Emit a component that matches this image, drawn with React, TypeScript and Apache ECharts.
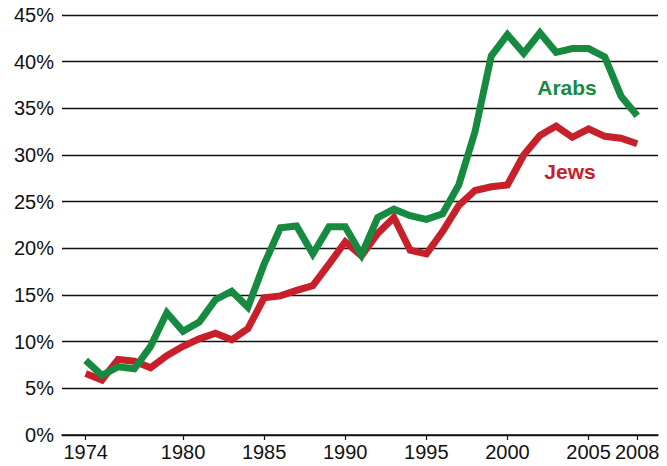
import React, { useEffect, useRef } from "react";
import * as echarts from "echarts";

const years: number[] = [];
for (let y = 1974; y <= 2008; y++) years.push(y);

const arabs = [
  8.0, 6.4, 7.3, 7.1, 9.5, 13.1, 11.1, 12.1, 14.5, 15.4,
  13.7, 18.3, 22.2, 22.4, 19.4, 22.3, 22.3, 19.3, 23.3, 24.2,
  23.5, 23.1, 23.7, 26.8, 32.5, 40.6, 42.9, 40.9, 43.1, 41.0,
  41.4, 41.4, 40.5, 36.3, 34.2,
];

const jews = [
  6.6, 5.9, 8.1, 7.9, 7.2, 8.5, 9.5, 10.3, 10.9, 10.2,
  11.4, 14.7, 14.9, 15.5, 16.0, 18.3, 20.7, 19.2, 21.6, 23.3,
  19.8, 19.4, 21.8, 24.6, 26.2, 26.6, 26.8, 30.0, 32.1, 33.1,
  31.9, 32.8, 32.0, 31.8, 31.2,
];

const xTickYears = [1974, 1980, 1985, 1990, 1995, 2000, 2005, 2008];
const seriesNames = ["Arabs", "Jews"];

const GREEN = "#168a3e";
const RED = "#c8202a";
const FONT = "Liberation Sans, Arial, Helvetica, sans-serif";

export default function App() {
  const ref = useRef<HTMLDivElement>(null);

  useEffect(() => {
    document.body.style.margin = "0";
    if (!ref.current) return;
    const chart = echarts.init(ref.current, undefined, { renderer: "svg" });
    const toPairs = (vals: number[]) => years.map((y, i) => [y, vals[i]]);
    chart.setOption({
      animation: false,
      backgroundColor: "#ffffff",
      grid: { left: 62, right: 9, top: 15, bottom: 31, containLabel: false },
      xAxis: {
        type: "value",
        min: 1972.54,
        max: 2009.28,
        axisLine: { show: true, lineStyle: { color: "#111", width: 1.5 } },
        axisTick: {
          show: true,
          length: 5,
          customValues: xTickYears,
          lineStyle: { color: "#111", width: 1.2 },
        },
        axisLabel: {
          customValues: xTickYears,
          color: "#111",
          fontSize: 20,
          fontFamily: FONT,
          margin: 7,
          formatter: (v: number) => String(v),
        },
        splitLine: { show: false },
      },
      yAxis: {
        type: "value",
        min: 0,
        max: 45,
        interval: 5,
        axisLine: { show: false },
        axisTick: { show: false },
        axisLabel: {
          color: "#111",
          fontSize: 20,
          fontFamily: FONT,
          margin: 8,
          formatter: "{value}%",
        },
        splitLine: { show: true, lineStyle: { color: "#111", width: 1.3 } },
      },
      series: [
        {
          name: seriesNames[0],
          type: "line",
          data: toPairs(arabs),
          showSymbol: false,
          symbol: "none",
          lineStyle: { color: GREEN, width: 7, join: "miter", cap: "butt" },
          itemStyle: { color: GREEN },
          z: 3,
        },
        {
          name: seriesNames[1],
          type: "line",
          data: toPairs(jews),
          showSymbol: false,
          symbol: "none",
          lineStyle: { color: RED, width: 7, join: "miter", cap: "butt" },
          itemStyle: { color: RED },
          z: 2,
        },
      ],
      graphic: [
        {
          type: "text",
          x: 567,
          y: 87,
          style: {
            text: seriesNames[0],
            fill: GREEN,
            font: `bold 21px ${FONT}`,
            textAlign: "center",
            textVerticalAlign: "middle",
            align: "center",
            verticalAlign: "middle",
          },
        },
        {
          type: "text",
          x: 570,
          y: 171,
          style: {
            text: seriesNames[1],
            fill: RED,
            font: `bold 21px ${FONT}`,
            textAlign: "center",
            textVerticalAlign: "middle",
            align: "center",
            verticalAlign: "middle",
          },
        },
      ],
    });
    return () => chart.dispose();
  }, []);

  return (
    <div
      ref={ref}
      style={{ position: "absolute", left: 0, top: 0, width: 667, height: 466 }}
    />
  );
}
